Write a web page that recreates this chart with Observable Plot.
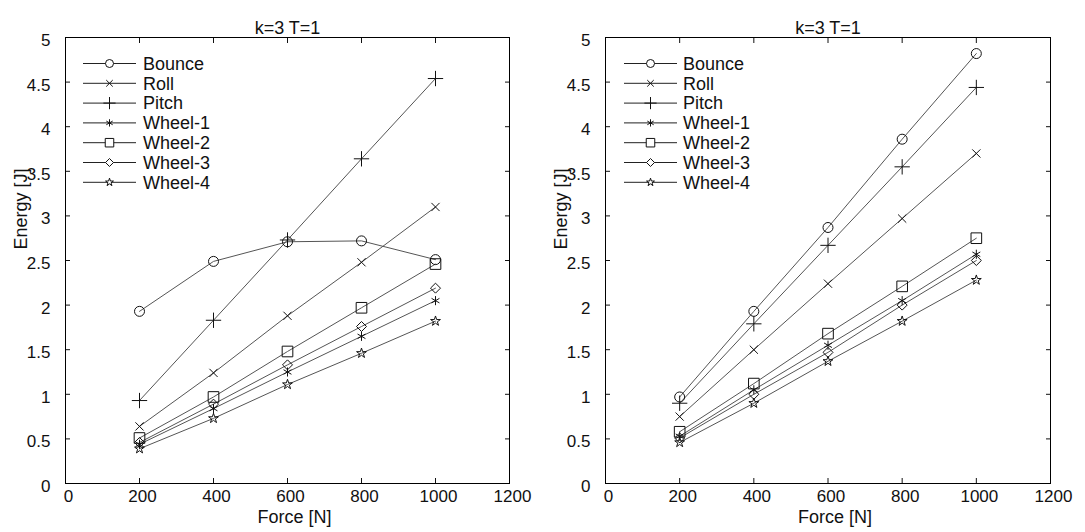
<!DOCTYPE html>
<html><head><meta charset="utf-8">
<script src="https://cdn.jsdelivr.net/npm/d3@7"></script>
<script src="https://cdn.jsdelivr.net/npm/@observablehq/plot@0.6"></script>
<style>
body{margin:0;background:#fff}
#wrap{display:flex;width:1085px;height:532px}
</style>
</head><body><div id="wrap"></div>
<script>
// ---- data ----
const forces = [200, 400, 600, 800, 1000];
const seriesNames = ["Bounce", "Roll", "Pitch", "Wheel-1", "Wheel-2", "Wheel-3", "Wheel-4"];
const seriesSymbols = ["circle", "times", "plus", "asterisk", "square", "diamond2", "star"];
const xTicks = [0, 200, 400, 600, 800, 1000, 1200];
const yTicks = [0, 0.5, 1, 1.5, 2, 2.5, 3, 3.5, 4, 4.5, 5];
const titleText = "k=3 T=1";
const xLabelText = "Force [N]";
const yLabelText = "Energy [J]";

// left chart
const leftBounce = [1.93, 2.49, 2.71, 2.72, 2.51];
const leftRoll   = [0.64, 1.24, 1.88, 2.48, 3.10];
const leftPitch  = [0.93, 1.83, 2.73, 3.64, 4.54];
const leftWheel1 = [0.44, 0.84, 1.25, 1.65, 2.05];
const leftWheel2 = [0.51, 0.97, 1.48, 1.97, 2.46];
const leftWheel3 = [0.46, 0.89, 1.33, 1.76, 2.19];
const leftWheel4 = [0.39, 0.73, 1.11, 1.46, 1.82];

// right chart
const rightBounce = [0.97, 1.93, 2.87, 3.86, 4.82];
const rightRoll   = [0.75, 1.50, 2.24, 2.97, 3.70];
const rightPitch  = [0.90, 1.79, 2.67, 3.55, 4.44];
const rightWheel1 = [0.53, 1.05, 1.55, 2.05, 2.57];
const rightWheel2 = [0.58, 1.12, 1.68, 2.21, 2.75];
const rightWheel3 = [0.51, 1.00, 1.47, 2.00, 2.50];
const rightWheel4 = [0.46, 0.90, 1.37, 1.82, 2.28];

// ---- styling ----
const markerR = {circle: 5, times: 3.8, plus: 5, asterisk: 4.3, square: 6, diamond2: 4.5, star: 3.1};
const d3Sym = {circle: d3.symbolCircle, times: d3.symbolTimes, plus: d3.symbolPlus, asterisk: d3.symbolAsterisk,
  square: d3.symbolSquare, diamond2: d3.symbolDiamond2, star: d3.symbolStar};
const FONT = "'Liberation Sans', Arial, sans-serif";

function buildRows(list) {
  const rows = [];
  list.forEach((vals, i) => vals.forEach((v, j) => rows.push({series: seriesNames[i], symbol: seriesSymbols[i], force: forces[j], energy: v})));
  return rows;
}

const innerX = xTicks.slice(1, -1);
const innerY = yTicks.slice(1, -1);
const fmt = d => String(d);
const noText = () => "";

function makeChart(list, {width, marginLeft, marginRight, legendLine, legendText}) {
  const rows = buildRows(list);
  const marks = [
    Plot.axisX(xTicks, {anchor: "bottom", tickSize: 0, tickPadding: 6, dx: 3, label: null, tickFormat: fmt, fontSize: 17}),
    Plot.axisY(yTicks, {anchor: "left", tickSize: 0, tickPadding: 15, dy: 3, label: null, tickFormat: fmt, fontSize: 17}),
    Plot.axisX(innerX, {anchor: "bottom", tickSize: 5, dy: -5, tickFormat: noText, label: null}),
    Plot.axisX(innerX, {anchor: "top", tickSize: 5, dy: 5, tickFormat: noText, label: null}),
    Plot.axisY(innerY, {anchor: "left", tickSize: 5, dx: 5, tickFormat: noText, label: null}),
    Plot.axisY(innerY, {anchor: "right", tickSize: 5, dx: -5, tickFormat: noText, label: null}),
    Plot.frame({stroke: "#000", strokeWidth: 1}),
    Plot.line(rows, {x: "force", y: "energy", z: "series", stroke: "#555", strokeWidth: 1}),
  ];
  seriesSymbols.forEach((s, i) => {
    marks.push(Plot.dot(rows.filter(d => d.series === seriesNames[i]),
      {x: "force", y: "energy", symbol: "symbol", r: markerR[s], stroke: "#111", strokeWidth: 1, fill: "none"}));
  });
  marks.push(Plot.text([titleText], {frameAnchor: "top", dy: -16, fontSize: 18, fill: "#111"}));
  marks.push(Plot.text([xLabelText], {frameAnchor: "bottom", dy: 39, dx: 7, fontSize: 18, fill: "#111"}));
  marks.push(Plot.text([yLabelText], {frameAnchor: "left", dx: -44, dy: -11, rotate: -90, fontSize: 18, fill: "#111"}));

  const svg = Plot.plot({
    width, height: 532,
    marginTop: 37, marginBottom: 49, marginLeft, marginRight,
    x: {domain: [0, 1200], label: null},
    y: {domain: [0, 5], label: null},
    symbol: {type: "identity"},
    style: {fontFamily: FONT, fontSize: "17px", color: "#111", background: "#fff"},
    marks
  });

  // legend (inside the plot, top-left)
  const g = d3.select(svg).append("g").attr("class", "legend");
  seriesNames.forEach((name, i) => {
    const y = 63.5 + i * 19.8;
    const row = g.append("g").attr("transform", `translate(0,${y})`);
    row.append("line").attr("x1", legendLine[0]).attr("x2", legendLine[1]).attr("y1", 0).attr("y2", 0)
      .attr("stroke", "#222").attr("stroke-width", 1);
    const s = seriesSymbols[i];
    const rr = markerR[s] * 0.8;
    row.append("path").attr("d", d3.symbol(d3Sym[s], Math.PI * rr * rr)())
      .attr("transform", `translate(${(legendLine[0] + legendLine[1]) / 2},0)`)
      .attr("fill", "#fff").attr("stroke", "#111");
    row.append("text").attr("x", legendText).attr("y", 0).attr("dy", "0.35em")
      .attr("text-anchor", "start").attr("font-family", FONT)
      .attr("font-size", 18).attr("fill", "#111").text(name);
  });
  return svg;
}

const wrap = document.getElementById("wrap");
wrap.append(makeChart([leftBounce, leftRoll, leftPitch, leftWheel1, leftWheel2, leftWheel3, leftWheel4],
  {width: 542, marginLeft: 65, marginRight: 33, legendLine: [83, 136], legendText: 143}));
wrap.append(makeChart([rightBounce, rightRoll, rightPitch, rightWheel1, rightWheel2, rightWheel3, rightWheel4],
  {width: 543, marginLeft: 63, marginRight: 35, legendLine: [82, 135], legendText: 141}));
</script>
</body></html>
